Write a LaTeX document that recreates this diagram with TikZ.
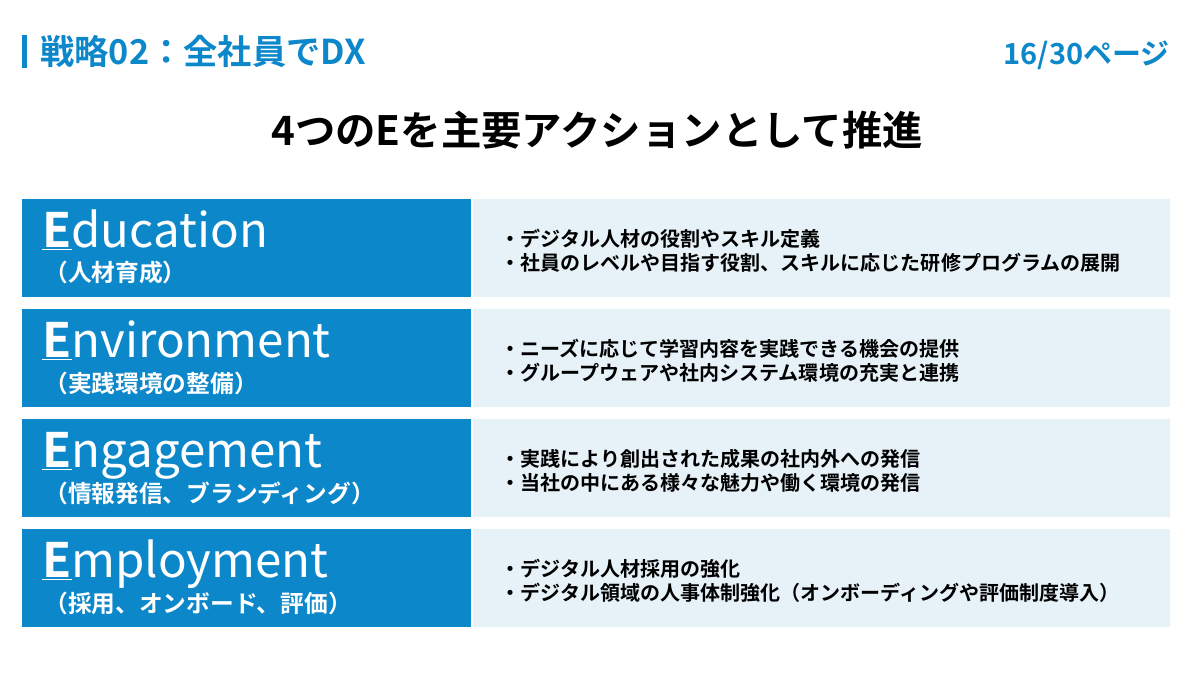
\documentclass[tikz,border=0pt]{standalone}
\usepackage{fontspec}
\setmainfont{Noto Sans CJK JP}
\newfontfamily\jpbold{Noto Sans CJK JP Bold}
\definecolor{dxblue}{HTML}{0C87C9}
\definecolor{dxlight}{HTML}{E6F1F8}
\tikzset{
  leftbox/.style={fill=dxblue, draw=none},
  rightbox/.style={fill=dxlight, draw=none},
  bigword/.style={anchor=base west, text=white, font=\fontsize{27}{28}\selectfont, inner sep=0pt},
  subword/.style={anchor=west, text=white, font=\jpbold\fontsize{13.5}{15}\selectfont, inner sep=0pt},
  bullet/.style={anchor=west, align=left, font=\jpbold\fontsize{11.4}{13.5}\selectfont, inner sep=0pt}
}
\begin{document}
\begin{tikzpicture}[x=0.02cm,y=-0.02cm]
\useasboundingbox (0,0) rectangle (1202,679);
\fill[dxblue] (22,35) rectangle (27,68);
\node[anchor=west, text=dxblue, font=\jpbold\fontsize{19.5}{20}\selectfont, inner sep=0pt] (head) at (40,51) {戦略02：全社員でDX};
\node[anchor=east, text=dxblue, font=\jpbold\fontsize{16.5}{17}\selectfont, inner sep=0pt] (page) at (1170,55) {16/30ページ};
\node[font=\jpbold\fontsize{23}{24}\selectfont, inner sep=0pt] (title) at (597,130) {4つのEを主要アクションとして推進};

\foreach \i/\rest/\sub/\la/\lb in {
  0/ducation/（人材育成）/・デジタル人材の役割やスキル定義/・社員のレベルや目指す役割、スキルに応じた研修プログラムの展開,
  1/nvironment/（実践環境の整備）/・ニーズに応じて学習内容を実践できる機会の提供/・グループウェアや社内システム環境の充実と連携,
  2/ngagement/（情報発信、ブランディング）/・実践により創出された成果の社内外への発信/・当社の中にある様々な魅力や働く環境の発信,
  3/mployment/（採用、オンボード、評価）/・デジタル人材採用の強化/・デジタル領域の人事体制強化（オンボーディングや評価制度導入）}{
  \pgfmathsetmacro{\top}{199+110*\i}
  \fill[leftbox] (22,\top) rectangle (471,\top+98);
  \fill[rightbox] (473,\top) rectangle (1170,\top+98);
  \node[bigword] (word\i) at (42,\top+48) {\underline{\jpbold E}\rest};
  \node[subword] (sub\i) at (44,\top+74) {\sub};
  \node[bullet] (bul\i) at (500,\top+52) {\la\\\lb};
}
\end{tikzpicture}
\end{document}
